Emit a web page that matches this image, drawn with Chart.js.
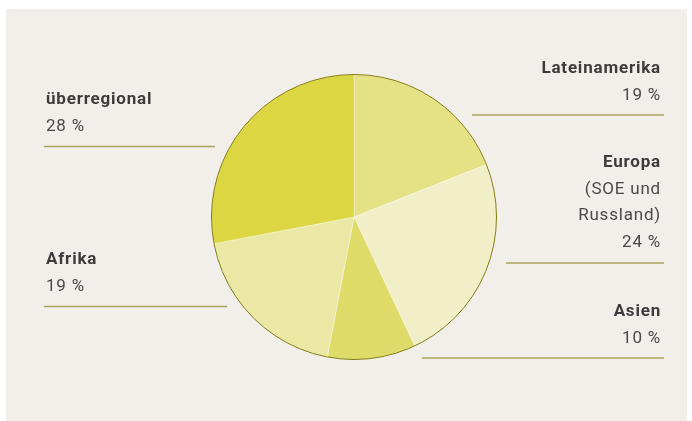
<!DOCTYPE html>
<html>
<head>
<meta charset="utf-8">
<script src="https://cdn.jsdelivr.net/npm/chart.js@4/dist/chart.umd.min.js"></script>
<style>
  html, body { margin: 0; padding: 0; background: #ffffff; }
  #wrap { width: 692px; height: 421px; position: relative; }
</style>
</head>
<body>
<div id="wrap"><canvas id="grafica" width="692" height="421"></canvas></div>
<script>
// ========== DATOS ===================
const regiones = ["Lateinamerika", "Europa", "Asien", "Afrika", "überregional"];
const anteile  = [19, 24, 10, 19, 28];
const unterzeilen = [[], ["(SOE und", "Russland)"], [], [], []];
const farben = ["#e5e285", "#f1efc7", "#dedb69", "#ebe8a6", "#dbd642"];

// -------------- LAYOUT DE ETIQUETAS ----------------
// x: borde del texto, y: linea base del titulo, linea: [x1, x2, y]
const etiquetas = [
  { align: "right", x: 661, y: 73,  linea: [472, 664, 115] },
  { align: "right", x: 661, y: 167, linea: [506, 664, 263] },
  { align: "right", x: 661, y: 316, linea: [422, 664, 358] },
  { align: "left",  x: 46,  y: 264, linea: [44, 227, 306.5] },
  { align: "left",  x: 46,  y: 104, linea: [44, 215, 146.5] }
];

const FONT = "Roboto, 'Noto Sans', sans-serif";
const ZEILE = 26.7;

// fondo beige
const fondo = {
  id: "fondo",
  beforeDraw(chart) {
    const c = chart.ctx;
    c.save();
    c.fillStyle = "#ffffff";
    c.fillRect(0, 0, chart.width, chart.height);
    c.fillStyle = "#f2eeea";
    c.fillRect(6, 9, 681, 412);
    c.restore();
  }
};

// circulo exterior + textos + lineas
const rotulos = {
  id: "rotulos",
  afterDatasetsDraw(chart) {
    const c = chart.ctx;
    const arc = chart.getDatasetMeta(0).data[0];
    c.save();
    c.beginPath();
    c.arc(arc.x, arc.y, arc.outerRadius, 0, Math.PI * 2);
    c.strokeStyle = "#857c12";
    c.lineWidth = 1;
    c.stroke();

    etiquetas.forEach((e, i) => {
      c.textAlign = e.align;
      c.textBaseline = "alphabetic";
      c.letterSpacing = "0.8px";
      c.fillStyle = "#3c3c3c";
      c.font = "bold 17px " + FONT;
      c.fillText(regiones[i], e.x, e.y);
      c.font = "17px " + FONT;
      c.fillStyle = "#4a4a4a";
      let y = e.y;
      unterzeilen[i].forEach(t => { y += ZEILE; c.fillText(t, e.x, y); });
      y += ZEILE;
      c.fillText(anteile[i] + " %", e.x, y);

      c.beginPath();
      c.moveTo(e.linea[0], e.linea[2]);
      c.lineTo(e.linea[1], e.linea[2]);
      c.strokeStyle = "#aaa45a";
      c.lineWidth = 1.5;
      c.stroke();
    });
    c.restore();
  }
};

new Chart(document.getElementById("grafica"), {
  type: "pie",
  data: {
    labels: regiones,
    datasets: [{
      data: anteile,
      backgroundColor: farben,
      borderColor: "rgba(255,255,255,0.35)",
      borderWidth: 1
    }]
  },
  options: {
    responsive: false,
    animation: false,
    layout: { padding: { left: 211, right: 195, top: 74, bottom: 61 } },
    plugins: { legend: { display: false }, tooltip: { enabled: false } }
  },
  plugins: [fondo, rotulos]
});
</script>
</body>
</html>
